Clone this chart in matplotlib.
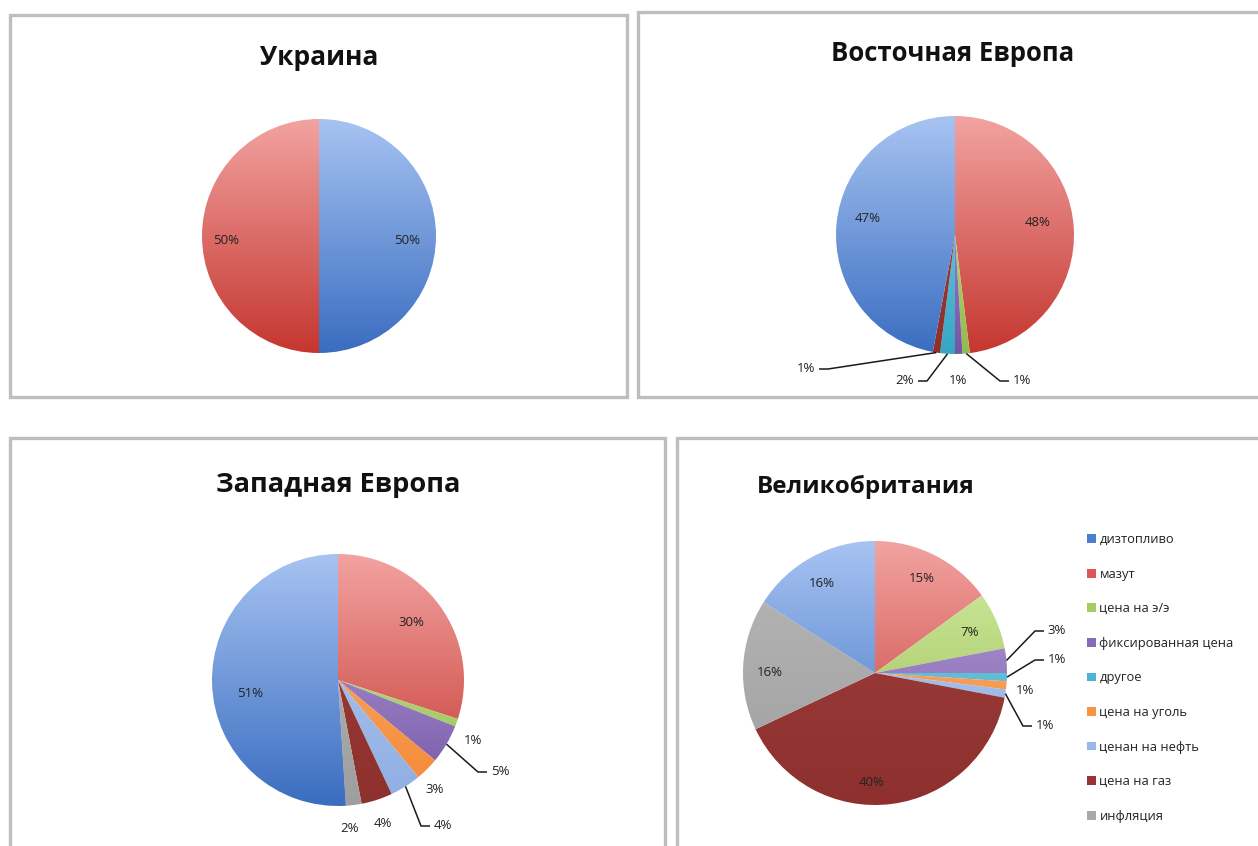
import numpy as np
import matplotlib
matplotlib.use("Agg")
import matplotlib.pyplot as plt
from matplotlib.patches import Rectangle, Patch
from matplotlib.colors import to_rgb

plt.rcParams['font.family'] = ['Open Sans', 'DejaVu Sans']

W, H = 1258, 846

# ---------------- data ----------------
legend_categories = ['дизтопливо', 'мазут', 'цена на э/э', 'фиксированная цена', 'другое',
                     'цена на уголь', 'ценан на нефть', 'цена на газ', 'инфляция']
category_colors = {
    'дизтопливо': '#4A7FD0',
    'мазут': '#DC5855',
    'цена на э/э': '#A6CC62',
    'фиксированная цена': '#8868B8',
    'другое': '#4BB4D2',
    'цена на уголь': '#F7953F',
    'ценан на нефть': '#98B8EC',
    'цена на газ': '#963533',
    'инфляция': '#A8A8A8',
}
# gradient (top, bottom) shading per category
gradients = {
    'дизтопливо': ('#A7C3F2', '#3A6DC0'),
    'мазут': ('#F2A3A1', '#C5362F'),
    'цена на э/э': ('#D6EEA6', '#92BA4C'),
    'фиксированная цена': ('#BCA6DD', '#7455A6'),
    'другое': ('#8ED6EA', '#36A6C4'),
    'цена на уголь': ('#FBB47C', '#F38832'),
    'ценан на нефть': ('#B6CEF4', '#8EADE2'),
    'цена на газ': ('#A0403D', '#8D302E'),
    'инфляция': ('#B8B8B8', '#9E9E9E'),
}

ukraine_title = 'Украина'
ukraine_cats = ['дизтопливо', 'мазут']
ukraine_vals = [50, 50]

east_title = 'Восточная Европа'
east_cats = ['мазут', 'цена на э/э', 'фиксированная цена', 'другое', 'цена на газ', 'дизтопливо']
east_vals = [48, 1, 1, 2, 1, 47]

west_title = 'Западная Европа'
west_cats = ['мазут', 'цена на э/э', 'фиксированная цена', 'цена на уголь', 'ценан на нефть',
             'цена на газ', 'инфляция', 'дизтопливо']
west_vals = [30, 1, 5, 3, 4, 4, 2, 51]

uk_title = 'Великобритания'
uk_cats = ['мазут', 'цена на э/э', 'фиксированная цена', 'другое', 'цена на уголь',
           'ценан на нефть', 'цена на газ', 'инфляция', 'дизтопливо']
uk_vals = [15, 7, 3, 1, 1, 1, 40, 16, 16]

# ---------------- layout (image pixel coords, y down) ----------------
panels = [  # x0, y0, x1, y1
    (10, 15, 627, 397),
    (638, 12, 1275, 397),
    (10, 438, 665, 870),
    (677, 438, 1275, 870),
]

charts = [
    dict(title=ukraine_title, cats=ukraine_cats, vals=ukraine_vals, center=(319, 236), r=117,
         title_pos=(319, 57), title_size=19,
         labels=[(407, 240, False), (226, 240, False)]),
    dict(title=east_title, cats=east_cats, vals=east_vals, center=(955, 235), r=119,
         title_pos=(953, 53), title_size=18.5,
         labels=[(1038, 222, False), (1022, 380, True), (958, 380, False), (905, 380, True),
                 (806, 368, True), (868, 218, False)]),
    dict(title=west_title, cats=west_cats, vals=west_vals, center=(338, 680), r=126,
         title_pos=(338, 485), title_size=19.5,
         labels=[(411, 622, False), (473, 740, False), (500, 771, True), (435, 789, False),
                 (443, 825, True), (383, 823, False), (350, 828, False), (250, 693, False)]),
    dict(title=uk_title, cats=uk_cats, vals=uk_vals, center=(875, 673), r=132,
         title_pos=(866, 487), title_size=17.5,
         labels=[(922, 578, False), (970, 632, False), (1057, 630, True), (1057, 659, True),
                 (1025, 690, False), (1045, 725, True), (872, 782, False), (770, 672, False),
                 (822, 583, False)]),
]

fig = plt.figure(figsize=(W / 100, H / 100), dpi=100)
ax = fig.add_axes([0, 0, 1, 1])


def Y(y):
    return H - y


for (x0, y0, x1, y1) in panels:
    ax.add_patch(Rectangle((x0, Y(y1)), x1 - x0, y1 - y0, facecolor='white',
                           edgecolor='#BEBEBE', linewidth=2.4, zorder=0))

for ch in charts:
    cx, cy = ch['center']
    r = ch['r']
    cols = [category_colors[c] for c in ch['cats']]
    wedges, _ = ax.pie(ch['vals'], colors=cols, startangle=90, counterclock=False,
                       center=(cx, Y(cy)), radius=r, frame=True,
                       wedgeprops=dict(linewidth=0))
    for w, cat in zip(wedges, ch['cats']):
        top = np.array(to_rgb(gradients[cat][0]))
        bot = np.array(to_rgb(gradients[cat][1]))
        t = np.linspace(0, 1, 256)[:, None]
        grad = (top[None, :] * (1 - t) + bot[None, :] * t)[:, None, :]
        w.set_facecolor('none')
        im = ax.imshow(grad, extent=(cx - r, cx + r, Y(cy) - r, Y(cy) + r),
                       origin='upper', aspect='auto', zorder=1, interpolation='bilinear')
        im.set_clip_path(w)
    # labels
    total = sum(ch['vals'])
    for w, v, (lx, ly, leader) in zip(wedges, ch['vals'], ch['labels']):
        ax.text(lx, Y(ly), f'{round(100 * v / total)}%', ha='center', va='center',
                fontsize=9.5, color='#222222', zorder=5)
        if leader:
            mid = np.deg2rad((w.theta1 + w.theta2) / 2)
            axp, ayp = cx + r * np.cos(mid), Y(cy) + r * np.sin(mid)
            side = 1 if lx > axp else -1
            ex = lx - side * 13
            elx = ex - side * 9
            ax.plot([axp, elx, ex], [ayp, Y(ly) - 1, Y(ly) - 1], color='#1a1a1a',
                    linewidth=1.1, zorder=4, solid_capstyle='butt')
    tx, ty = ch['title_pos']
    ax.text(tx, Y(ty), ch['title'], ha='center', va='center', fontsize=ch['title_size'],
            fontweight='bold', color='#111111', zorder=5)

handles = [Patch(facecolor=category_colors[c], edgecolor='none') for c in legend_categories]
leg = ax.legend(handles, legend_categories, loc='upper left',
                bbox_to_anchor=(1082 / W, 1 - 528 / H), frameon=False, fontsize=9.3,
                handlelength=0.65, handleheight=0.65, handletextpad=0.3,
                labelspacing=1.67, borderaxespad=0)
for t in leg.get_texts():
    t.set_color('#222222')

ax.set_xlim(0, W)
ax.set_ylim(0, H)
ax.set_aspect('auto')
ax.axis('off')

fig.savefig('out.png', dpi=100)
